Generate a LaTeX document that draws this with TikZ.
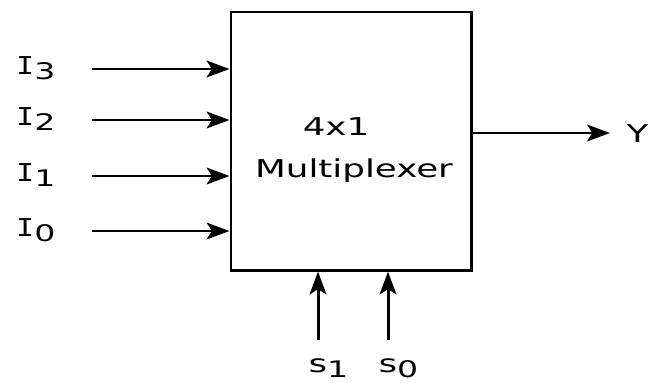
\documentclass[tikz,border=0pt]{standalone}
\usepackage{fontspec}
\setmainfont{DejaVu Sans}[FakeStretch=1.45]
\newfontfamily\barfont{DejaVu Sans Mono}[FakeStretch=1.2]
\usetikzlibrary{arrows.meta,positioning}
\newcommand{\lowsub}[1]{\raisebox{-0.4ex}{\fontsize{13}{15}\selectfont #1}}

\begin{document}
\begin{tikzpicture}[font=\fontsize{14}{16}\selectfont, line width=1.7pt,
    >={Stealth[length=13pt,width=9.5pt,inset=3pt]},
    lbl/.style={anchor=base west, inner sep=0pt}]
    \useasboundingbox (0,0) rectangle (13,7.64);

    % Multiplexer block
    \node[draw, minimum width=4.8cm, minimum height=5.16cm, inner sep=0pt] (mux) at (7.02,4.82) {};
    \node[anchor=base, inner sep=0pt] (ratio) at (6.72,4.94) {4x1};
    \node[anchor=base, inner sep=0pt] (muxname) at (7.08,4.10) {Multiplexer};

    % Data inputs I3..I0
    \foreach \n/\y in {3/6.26,2/5.24,1/4.12,0/3.02}{
      \coordinate (in\n) at (1.84,\y);
      \node[lbl] (inlbl\n) at (0.30,\y-0.1) {{\barfont I}\lowsub{\n}};
      \draw[->] (in\n) -- (in\n -| mux.west);
    }

    % Output Y
    \coordinate (yout) at (12.2,4.98);
    \draw[->] (mux.east |- yout) -- (yout);
    \node[lbl] (ylbl) at (12.5,4.80) {Y};

    % Select lines s1, s0
    \foreach \n/\x in {1/6.36,0/7.76}{
      \coordinate (sel\n) at (\x,0.84);
      \draw[->] (sel\n) -- (sel\n |- mux.south);
      \node[lbl] (sellbl\n) at (\x-0.22,0.2) {s\lowsub{\n}};
    }
  \end{tikzpicture}
\end{document}
